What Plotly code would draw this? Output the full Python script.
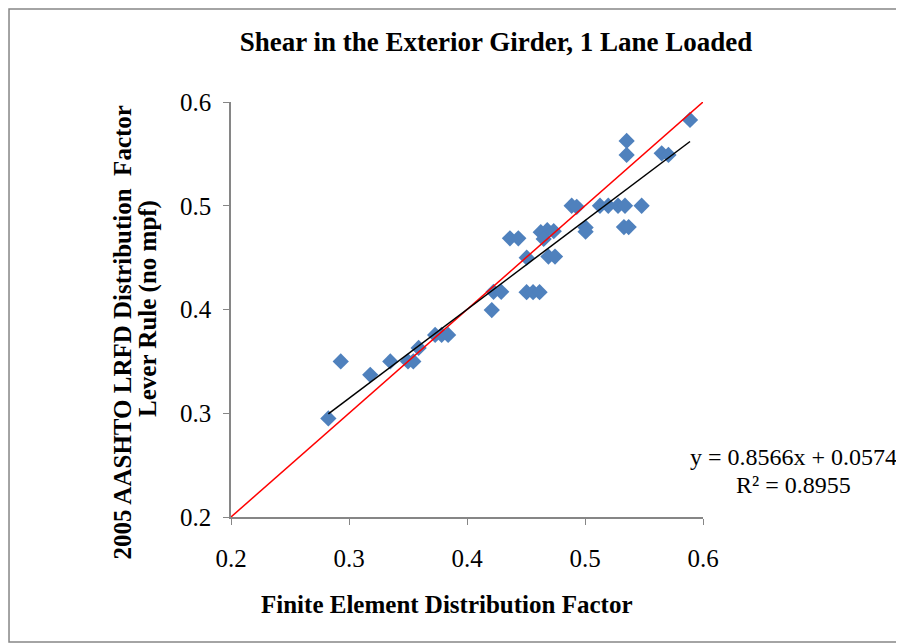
import plotly.graph_objects as go

# finite element DF (x) vs lever rule DF (y)
fe_df = [0.2825, 0.293, 0.318, 0.335, 0.350, 0.3545, 0.359, 0.373, 0.3785, 0.384,
         0.421, 0.4225, 0.429, 0.4505, 0.456, 0.4615, 0.4364, 0.4435, 0.4506, 0.469,
         0.4746, 0.4625, 0.468, 0.4735, 0.465, 0.4887, 0.493, 0.5127, 0.5197, 0.528,
         0.5339, 0.548, 0.5005, 0.5005, 0.533, 0.537, 0.5353, 0.5353, 0.565, 0.5707,
         0.589]
lever_df = [0.295, 0.350, 0.337, 0.350, 0.350, 0.350, 0.363, 0.3755, 0.3755, 0.3755,
            0.3995, 0.417, 0.417, 0.4167, 0.4167, 0.4167, 0.4686, 0.4686, 0.450, 0.451,
            0.451, 0.4745, 0.4765, 0.4755, 0.468, 0.500, 0.499, 0.500, 0.500, 0.500,
            0.500, 0.500, 0.479, 0.475, 0.4795, 0.4795, 0.5625, 0.549, 0.5505, 0.549,
            0.5827]

slope, intercept, r2 = 0.8566, 0.0574, 0.8955
equal_line = [0.2, 0.6]

serif = "Liberation Serif"
black = "#000000"

fig = go.Figure()

fig.add_trace(go.Scatter(
    x=fe_df, y=lever_df, mode="markers",
    marker=dict(symbol="diamond", size=12.5, color="#4F81BD"),
    showlegend=False,
))

# 1:1 line
fig.add_trace(go.Scatter(
    x=equal_line, y=equal_line, mode="lines",
    line=dict(color="#FF0000", width=1.5), showlegend=False,
))

# linear trendline over the data range
tx = [min(fe_df), max(fe_df)]
fig.add_trace(go.Scatter(
    x=tx, y=[slope * v + intercept for v in tx], mode="lines",
    line=dict(color=black, width=1.5), showlegend=False,
))

axis_common = dict(
    range=[0.2, 0.6], dtick=0.1, tickformat=".1f",
    showgrid=False, zeroline=False,
    showline=True, linecolor="#868686", linewidth=1.5,
    ticks="outside", ticklen=6, tickcolor="#868686",
    tickfont=dict(family=serif, size=25, color=black),
)
fig.update_xaxes(**axis_common, ticklabelstandoff=12)
fig.update_yaxes(**axis_common, ticklabelstandoff=7)

# axis titles and trendline label placed as annotations (plot-area fractions)
labels = [
    ("<b>2005 AASHTO LRFD Distribution  Factor</b>", -0.2309, 0.4446, -90, 25),
    ("<b>Lever Rule (no mpf)</b>", -0.176, 0.5036, -90, 25),
    ("<b>Finite Element Distribution Factor</b>", 0.4566, -0.212, 0, 25),
    (f"y = {slope}x + {intercept}", 1.1907, 0.1446, 0, 24),
    (f"R² = {r2}", 1.1907, 0.0771, 0, 24),
]
for text, ax, ay, ang, fs in labels:
    fig.add_annotation(
        x=ax, y=ay, xref="paper", yref="paper", text=text, textangle=ang,
        showarrow=False, xanchor="center", yanchor="middle",
        font=dict(family=serif, size=fs, color=black),
    )

fig.update_layout(
    width=896, height=636,
    paper_bgcolor="white", plot_bgcolor="white",
    margin=dict(l=223, r=201, t=94, b=127),
    title=dict(text="<b>Shear in the Exterior Girder, 1 Lane Loaded</b>",
               font=dict(family=serif, size=27, color=black),
               x=0.5446, xanchor="center", y=0.9465, yanchor="middle"),
    shapes=[dict(type="rect", xref="paper", yref="paper",
                 x0=-0.4703, x1=1.4216, y0=-0.3012, y1=1.2241,
                 line=dict(color="#868686", width=1.5))],
)

fig.write_html("out.html")
